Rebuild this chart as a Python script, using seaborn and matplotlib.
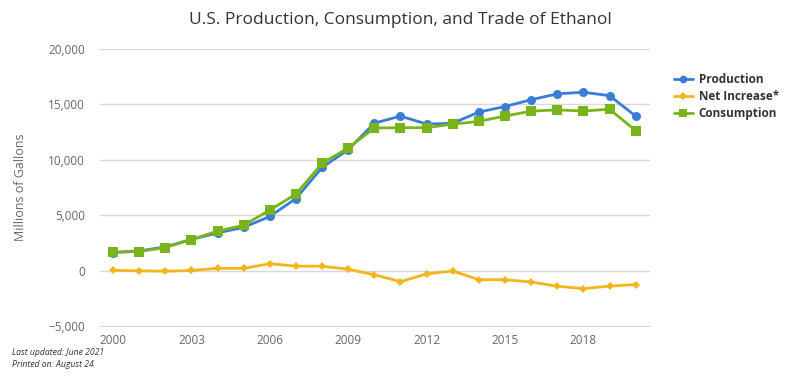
import pandas as pd
import seaborn as sns
import matplotlib.pyplot as plt
from matplotlib.ticker import FuncFormatter

years = list(range(2000, 2021))
production = [1630, 1770, 2140, 2810, 3400, 3900, 4880, 6500, 9300, 10900, 13300,
              13930, 13220, 13290, 14300, 14800, 15410, 15940, 16090, 15780, 13940]
net_increase = [20, -20, -60, 10, 200, 200, 620, 400, 390, 120, -380,
                -1000, -300, -40, -820, -820, -1030, -1410, -1630, -1400, -1260]
consumption = [1650, 1720, 2080, 2800, 3560, 4090, 5460, 6900, 9680, 11060, 12860,
               12890, 12890, 13210, 13460, 13940, 14380, 14500, 14390, 14560, 12630]

series = {
    'Production': (production, '#3a7dd6', 'o', 6.5),
    'Net Increase*': (net_increase, '#f2b51c', 'D', 4.5),
    'Consumption': (consumption, '#79b51a', 's', 7),
}

sns.set_style('white')
plt.rcParams['font.family'] = ['Open Sans', 'DejaVu Sans']

fig = plt.figure(figsize=(8, 3.76), dpi=100)
ax = fig.add_axes([0.125, 0.133, 0.6875, 0.737])

for name, (vals, color, marker, ms) in series.items():
    df = pd.DataFrame({'Year': years, 'Value': vals})
    sns.lineplot(data=df, x='Year', y='Value', ax=ax, color=color, marker=marker,
                 markersize=ms, markeredgewidth=0, linewidth=2, label=name)

ax.set_xlim(1999.5, 2020.55)
ax.set_ylim(-5000, 20000)
ax.set_xticks(range(2000, 2019, 3))
ax.set_yticks(range(-5000, 20001, 5000))
ax.yaxis.set_major_formatter(FuncFormatter(lambda v, p: f'{int(v):,}'.replace('-', '\u2212')))
ax.grid(axis='y', color='#d8d8d8', linewidth=1)
ax.grid(axis='x', visible=False)
for s in ['top', 'right', 'left']:
    ax.spines[s].set_visible(False)
ax.spines['bottom'].set_color('#d8d8d8')
ax.tick_params(axis='x', colors='#666666', labelsize=8.5, length=5, width=1, direction='out', pad=1)
ax.tick_params(axis='x', color='#d8d8d8')
ax.tick_params(axis='y', colors='#666666', labelsize=8.5, length=0, pad=11)
ax.set_xlabel('')
ax.set_ylabel('Millions of Gallons', color='#666666', fontsize=9, labelpad=15)

ax.legend(loc='upper left', bbox_to_anchor=(1.035, 0.93), frameon=False,
          prop={'weight': 'bold', 'size': 8.5}, labelcolor='#333333',
          handlelength=1.6, handletextpad=0.5, borderaxespad=0, labelspacing=0.35,
          markerscale=0.85)

fig.text(0.5, 0.935, 'U.S. Production, Consumption, and Trade of Ethanol',
         ha='center', fontsize=12.5, color='#333333')
fig.text(0.015, 0.055, 'Last updated: June 2021', fontsize=6.2, style='italic', color='#333333')
fig.text(0.015, 0.025, 'Printed on: August 24', fontsize=6.2, style='italic', color='#333333')

fig.savefig('out.png', dpi=100)
